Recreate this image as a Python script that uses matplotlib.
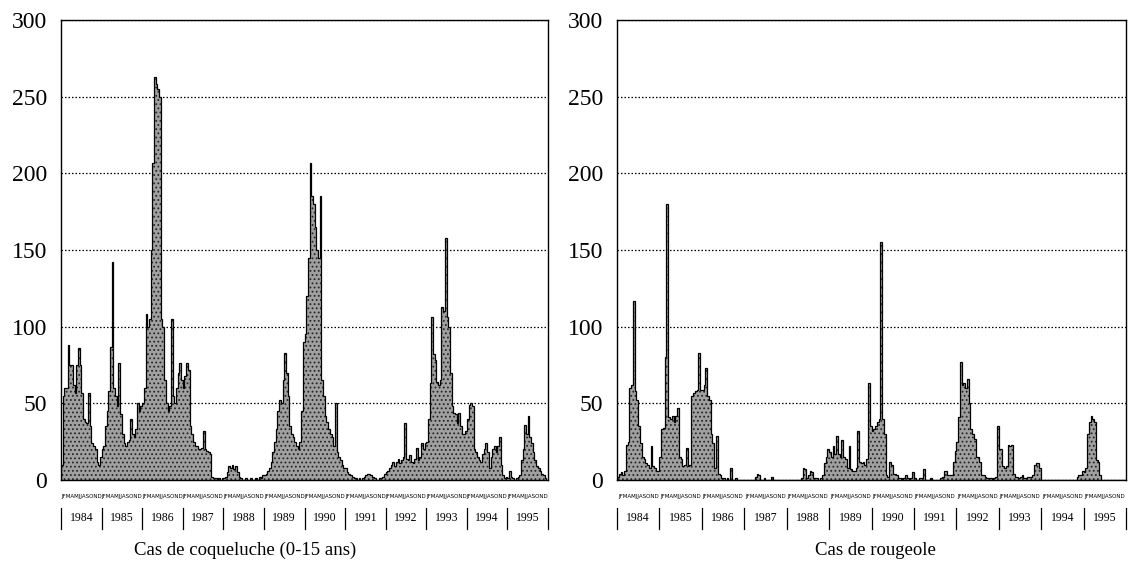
import matplotlib
matplotlib.use("Agg")
import matplotlib.pyplot as plt
import matplotlib.transforms as mtransforms
import numpy as np

# ---------------- data (half-month periods, 24 per year) ----------------
years = list(range(1984, 1996))
month_letters = ["J", "F", "M", "A", "M", "J", "J", "A", "S", "O", "N", "D"]
yticks = [0, 50, 100, 150, 200, 250, 300]
periods_per_year = 24
titles = ["Cas de coqueluche (0-15 ans)", "Cas de rougeole"]

coqueluche = [
    # 1984
    10, 55, 60, 60, 88, 75, 75, 62, 57, 75, 86, 75, 57, 40, 38, 37, 57, 35, 24, 22, 20, 12, 10, 15,
    # 1985
    20, 22, 35, 45, 58, 87, 142, 60, 55, 48, 76, 43, 30, 24, 22, 25, 26, 40, 30, 28, 33, 50, 45, 48,
    # 1986
    50, 60, 108, 100, 105, 150, 207, 263, 258, 255, 250, 105, 100, 65, 50, 45, 48, 105, 55, 50, 60, 70, 76, 65,
    # 1987
    60, 68, 76, 72, 35, 30, 25, 22, 22, 20, 20, 21, 32, 20, 19, 18, 17, 2, 1, 1, 0, 1, 0, 1,
    # 1988
    1, 2, 5, 9, 8, 10, 7, 9, 5, 2, 1, 0, 0, 1, 0, 0, 1, 0, 0, 1, 0, 2, 1, 3,
    # 1989
    3, 4, 6, 8, 12, 18, 25, 33, 45, 52, 50, 65, 83, 70, 55, 35, 30, 28, 25, 22, 20, 25, 45, 90,
    # 1990
    95, 120, 145, 207, 185, 180, 165, 150, 145, 185, 65, 55, 42, 38, 33, 30, 28, 22, 50, 18, 15, 13, 10, 8,
    # 1991
    8, 5, 4, 3, 2, 1, 1, 0, 1, 0, 1, 2, 3, 4, 4, 3, 2, 1, 0, 0, 1, 1, 2, 4,
    # 1992
    5, 6, 8, 10, 12, 9, 12, 14, 11, 13, 15, 37, 14, 13, 16, 12, 11, 14, 21, 13, 15, 24, 20, 24,
    # 1993
    25, 40, 63, 106, 82, 78, 64, 62, 65, 113, 110, 158, 106, 100, 70, 48, 44, 43, 37, 44, 35, 30, 30, 32,
    # 1994
    40, 49, 50, 48, 20, 18, 15, 13, 12, 17, 20, 24, 18, 8, 15, 20, 22, 18, 22, 28, 10, 3, 1, 2,
    # 1995
    1, 6, 2, 1, 0, 1, 2, 3, 13, 20, 36, 30, 42, 28, 24, 18, 13, 9, 8, 6, 4, 3, 1, 0,
]

rougeole = [
    # 1984
    2, 4, 5, 3, 6, 23, 25, 60, 62, 117, 58, 52, 35, 24, 15, 14, 11, 10, 8, 22, 9, 8, 6, 6,
    # 1985
    15, 33, 34, 80, 180, 41, 40, 42, 38, 42, 47, 15, 14, 9, 10, 21, 9, 10, 55, 57, 58, 59, 83, 59,
    # 1986
    59, 62, 73, 55, 52, 30, 24, 8, 29, 4, 3, 1, 1, 0, 1, 0, 8, 0, 0, 1, 0, 0, 0, 0,
    # 1987
    0, 0, 0, 0, 0, 0, 2, 4, 3, 0, 0, 1, 0, 0, 0, 2, 0, 0, 0, 0, 0, 0, 0, 0,
    # 1988
    0, 0, 0, 0, 0, 0, 0, 0, 1, 8, 7, 1, 3, 6, 5, 1, 1, 1, 0, 1, 3, 11, 15, 20,
    # 1989
    18, 15, 22, 17, 29, 17, 15, 26, 15, 14, 8, 22, 7, 6, 6, 8, 32, 12, 11, 12, 10, 14, 63, 35,
    # 1990
    32, 33, 35, 38, 40, 155, 40, 30, 3, 2, 12, 10, 4, 4, 3, 1, 1, 0, 1, 3, 1, 0, 1, 5,
    # 1991
    1, 0, 0, 1, 1, 7, 0, 0, 0, 1, 0, 0, 0, 0, 0, 1, 2, 6, 6, 3, 3, 3, 12, 19,
    # 1992
    25, 41, 77, 62, 63, 60, 66, 50, 33, 30, 27, 15, 15, 12, 3, 3, 2, 1, 1, 1, 0, 1, 2, 35,
    # 1993
    20, 20, 9, 8, 9, 23, 22, 23, 4, 2, 2, 1, 2, 3, 1, 1, 2, 2, 2, 3, 10, 11, 11, 8,
    # 1994
    0, 0, 0, 0, 0, 0, 0, 0, 0, 0, 0, 0, 0, 0, 0, 0, 0, 0, 0, 0, 2, 3, 3, 6,
    # 1995
    5, 8, 30, 38, 42, 40, 38, 13, 12, 3, 0, 0, 0, 0, 0, 0, 0, 0, 0, 0, 0, 0, 0, 0,
]

# ---------------- figure ----------------
W, H = 1128, 562
fig = plt.figure(figsize=(W / 100, H / 100), dpi=100)
plt.rcParams["hatch.linewidth"] = 0.8
serif = ["Liberation Serif", "DejaVu Serif"]
narrow = ["Liberation Sans Narrow", "DejaVu Sans"]

panels = [
    (coqueluche, [61 / W, 82 / H, 487 / W, 460 / H], 245 / W),
    (rougeole, [617 / W, 82 / H, 509 / W, 460 / H], 875 / W),
]

edges = years[0] + np.arange(len(years) * periods_per_year + 1) / periods_per_year
month_string = "".join(month_letters)

for (values, rect, title_x), title in zip(panels, titles):
    ax = fig.add_axes(rect)
    ax.stairs(values, edges, fill=True, facecolor="#a0a0a0", edgecolor="#262626",
              hatch="....", linewidth=0, zorder=2)
    ax.stairs(values, edges, color="black", linewidth=0.9, zorder=3)
    ax.set_xlim(years[0], years[-1] + 1)
    ax.set_ylim(0, 300)
    ax.set_yticks(yticks)
    ax.set_yticklabels([str(v) for v in yticks], fontfamily=serif, fontsize=17)
    ax.set_xticks([])
    ax.tick_params(axis="y", length=0, pad=10)
    ax.set_axisbelow(True)
    ax.yaxis.grid(True, linestyle=(0, (1.2, 1.6)), color="black", linewidth=0.9)
    for sp in ax.spines.values():
        sp.set_linewidth(1.0)
        sp.set_color("black")

    trans = mtransforms.blended_transform_factory(ax.transData, ax.transAxes)
    for y in years:
        ax.text(y + 0.5, -0.036, month_string, transform=trans,
                ha="center", va="center", fontsize=4.0,
                fontfamily=narrow)
        ax.text(y + 0.5, -0.083, str(y), transform=trans, ha="center", va="center",
                fontsize=8.5, fontfamily=serif)
    for y in years + [years[-1] + 1]:
        ax.plot([y, y], [-0.06, -0.107], transform=trans, color="black",
                linewidth=0.9, clip_on=False)

    fig.text(title_x, 0.006, title, ha="center", va="bottom", fontsize=13.5,
             fontfamily=serif)

fig.savefig("out.png", dpi=100, facecolor="white")
